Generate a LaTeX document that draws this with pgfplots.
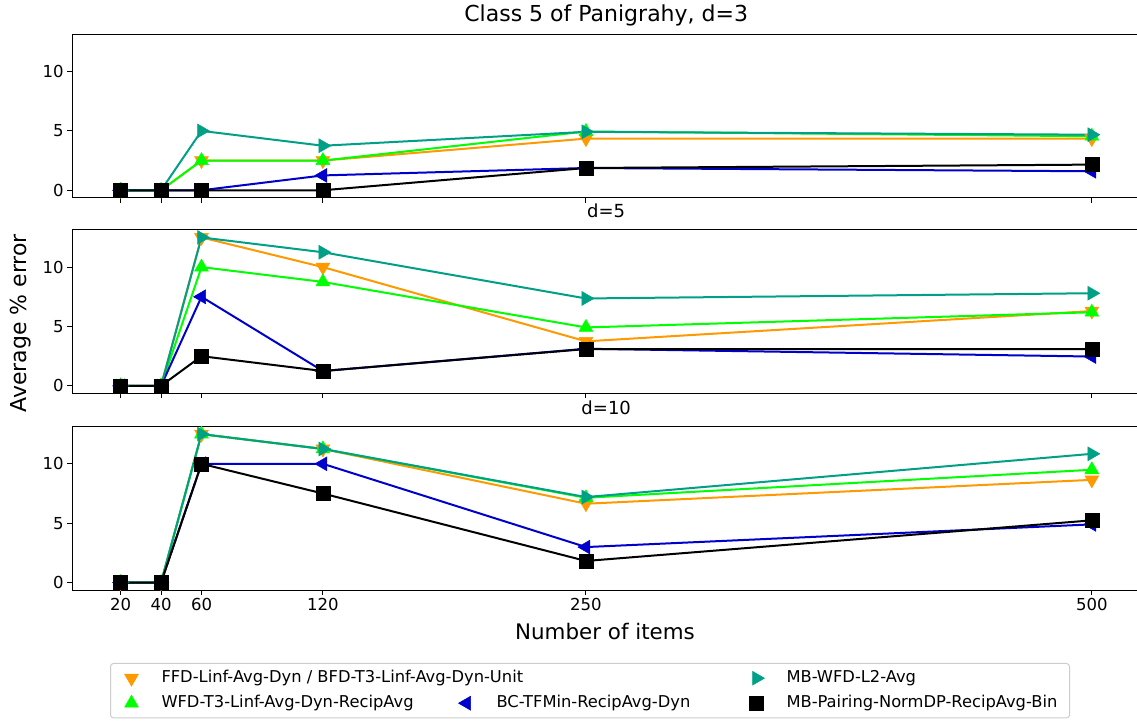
\documentclass[border=0pt]{standalone}
\usepackage{pgfplots}
\pgfplotsset{compat=1.18}
\usepackage{pgfplotstable}
\usepackage{fontspec}
\setmainfont{DejaVu Sans}

\definecolor{cOr}{HTML}{FF9900}
\definecolor{cGr}{HTML}{00FF00}
\definecolor{cBl}{HTML}{0000CC}
\definecolor{cTe}{HTML}{00A087}

\pgfplotstableread{
x   ffd   wfd   bc    mbw   mbp
20  0     0     0     0     0
40  0     0     0     0     0
60  2.5   2.5   0     5     0
120 2.5   2.5   1.25  3.75  0
250 4.35  4.95  1.875 4.92  1.875
500 4.35  4.55  1.6   4.68  2.16
}\dthree

\pgfplotstableread{
x   ffd   wfd   bc    mbw   mbp
20  0     0     0     0     0
40  0     0     0     0     0
60  12.5  10    7.5   12.5  2.5
120 10    8.75  1.25  11.25 1.25
250 3.75  4.92  3.125 7.36  3.1
500 6.3   6.2   2.47  7.8   3.1
}\dfive

\pgfplotstableread{
x   ffd   wfd   bc    mbw   mbp
20  0     0     0     0     0
40  0     0     0     0     0
60  12.5  12.5  10    12.5  10
120 11.25 11.25 10    11.25 7.5
250 6.64  7.14  2.99  7.2   1.82
500 8.65  9.5   4.9   10.84 5.24
}\dten

\pgfplotsset{
  panel/.style={
    scale only axis, width=1068.4pt, height=163.3pt,
    anchor=south west,
    xmin=-4, xmax=524, ymin=-0.625, ymax=13.125,
    xtick={20,40,60,120,250,500}, ytick={0,5,10},
    xtick pos=bottom, ytick pos=left,
    tick align=outside, major tick length=4.9pt,
    every tick/.style={black, line width=1pt},
    axis line style={line width=1pt, black},
    tick label style={font=\fontsize{16.5}{19}\selectfont},
    /pgf/number format/assume math mode=true,
    title style={font=\fontsize{18}{21}\selectfont, at={(0.5,1)}, anchor=base, yshift=6pt},
  },
  sFFD/.style={color=cOr, line width=2pt, mark=triangle*, mark size=8pt, mark options={rotate=180, line width=0.5pt}},
  sWFD/.style={color=cGr, line width=2pt, mark=triangle*, mark size=8pt, mark options={line width=0.5pt}},
  sBC/.style={color=cBl, line width=2pt, mark=triangle*, mark size=8pt, mark options={rotate=90, line width=0.5pt}},
  sMBW/.style={color=cTe, line width=2pt, mark=triangle*, mark size=8pt, mark options={rotate=-90, line width=0.5pt}},
  sMBP/.style={color=black, line width=2pt, mark=square*, mark size=7pt, mark options={line width=0.5pt}},
}

\begin{document}
\begin{tikzpicture}
\path[use as bounding box] (0pt,0pt) rectangle (1137pt,720pt);

\begin{axis}[panel, at={(72pt,522.3pt)}, xticklabels={},
  title={Class 5 of Panigrahy, d=3}, title style={font=\fontsize{22}{26}\selectfont, yshift=0.5pt}]
\addplot[sFFD, forget plot] table[x=x,y=ffd] {\dthree};
\addplot[sWFD, forget plot] table[x=x,y=wfd] {\dthree};
\addplot[sBC, forget plot] table[x=x,y=bc] {\dthree};
\addplot[sMBW, forget plot] table[x=x,y=mbw] {\dthree};
\addplot[sMBP, forget plot] table[x=x,y=mbp] {\dthree};
\end{axis}

\begin{axis}[panel, at={(72pt,326.7pt)}, xticklabels={}, title={d=5}]
\addplot[sFFD, forget plot] table[x=x,y=ffd] {\dfive};
\addplot[sWFD, forget plot] table[x=x,y=wfd] {\dfive};
\addplot[sBC, forget plot] table[x=x,y=bc] {\dfive};
\addplot[sMBW, forget plot] table[x=x,y=mbw] {\dfive};
\addplot[sMBP, forget plot] table[x=x,y=mbp] {\dfive};
\end{axis}

\begin{axis}[panel, at={(72pt,130pt)}, title={d=10},
  legend columns=3,
  legend cell align=left,
  legend image code/.code={\path[draw=none, fill=none] (-10pt,-6pt) rectangle (30pt,6pt); \draw[#1, sharp corners, mark repeat=1] plot coordinates {(0pt,0pt)};},
  legend style={at={(0.03557,-0.447)}, anchor=north west, draw=black!20, line width=1pt,
    rounded corners=3pt, inner xsep=11pt, inner ysep=6.7pt,
    font=\fontsize{16.3}{19}\selectfont,
    nodes={inner sep=0pt, text height=12pt, text depth=4pt, sharp corners},
    row sep=9pt}]
\addlegendimage{color=cOr, mark=triangle*, mark size=8pt, mark options={rotate=180, line width=0.5pt}}
\addlegendentry{\makebox[295pt][l]{FFD-Linf-Avg-Dyn / BFD-T3-Linf-Avg-Dyn-Unit}}
\addlegendimage{empty legend}
\addlegendentry{\makebox[250pt][l]{}}
\addlegendimage{color=cTe, mark=triangle*, mark size=8pt, mark options={rotate=-90, line width=0.5pt}}
\addlegendentry{\makebox[272pt][l]{MB-WFD-L2-Avg}}
\addlegendimage{color=cGr, mark=triangle*, mark size=8pt, mark options={line width=0.5pt}}
\addlegendentry{\makebox[295pt][l]{WFD-T3-Linf-Avg-Dyn-RecipAvg}}
\addlegendimage{color=cBl, mark=triangle*, mark size=8pt, mark options={rotate=90, line width=0.5pt}}
\addlegendentry{\makebox[250pt][l]{BC-TFMin-RecipAvg-Dyn}}
\addlegendimage{color=black, mark=square*, mark size=7pt, mark options={line width=0.5pt}}
\addlegendentry{\makebox[272pt][l]{MB-Pairing-NormDP-RecipAvg-Bin}}
\addplot[sFFD, forget plot] table[x=x,y=ffd] {\dten};
\addplot[sWFD, forget plot] table[x=x,y=wfd] {\dten};
\addplot[sBC, forget plot] table[x=x,y=bc] {\dten};
\addplot[sMBW, forget plot] table[x=x,y=mbw] {\dten};
\addplot[sMBP, forget plot] table[x=x,y=mbp] {\dten};
\end{axis}

\node[rotate=90, anchor=base, font=\fontsize{22}{26}\selectfont] at (26.7pt,396.5pt) {Average \% error};
\node[anchor=base, font=\fontsize{21.4}{25}\selectfont] at (605pt,81pt) {Number of items};
\end{tikzpicture}
\end{document}
